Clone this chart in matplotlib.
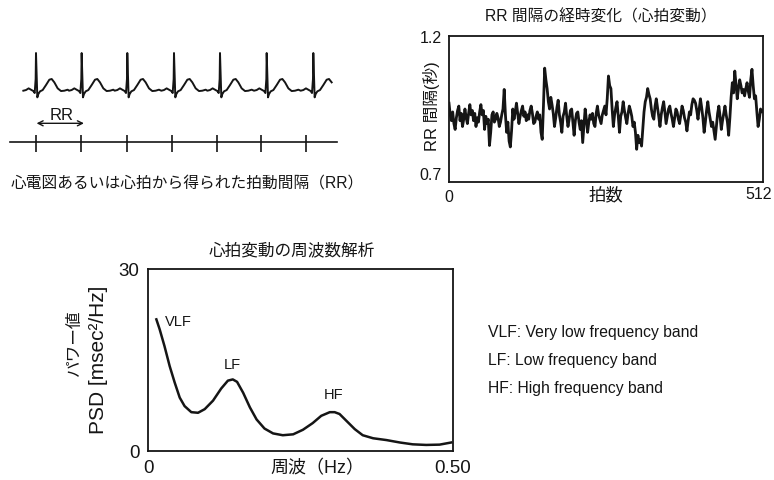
import numpy as np
import matplotlib
matplotlib.use("Agg")
import matplotlib.pyplot as plt

plt.rcParams['font.family'] = ['Liberation Sans', 'Noto Sans CJK JP', 'DejaVu Sans']

INK = '#151515'
W, H = 774, 481

# --- ECG: one beat (s from R peak, mV) and the beat times
beat_t = [-0.22, -0.174, -0.128, -0.087, -0.046, -0.023, -0.006, 0.0, 0.012, 0.023,
          0.041, 0.07, 0.116, 0.174, 0.232, 0.273, 0.319, 0.377, 0.435, 0.493, 0.551]
beat_v = [0.0, 0.017, 0.06, 0.026, -0.009, -0.06, 0.30, 0.966, 0.385, -0.171,
          -0.085, -0.017, 0.017, 0.145, 0.282, 0.30, 0.214, 0.06, -0.009, 0.0, 0.026]
r_peaks = [0.626, 1.420, 2.214, 3.026, 3.826, 4.638, 5.449]
rr_ticks = [0.626, 1.409, 2.203, 2.986, 3.768, 4.539, 5.316]
ecg_end = 5.77

# --- RR interval series (s), 512 beats, read every 2nd beat
rr = [0.97, 0.93, 0.91, 0.94, 0.90, 0.88, 0.92, 0.945, 0.96, 0.91,
      0.935, 0.89, 0.915, 0.95, 0.92, 0.90, 0.935, 0.965, 0.93, 0.945,
      0.91, 0.935, 0.89, 0.92, 0.905, 0.94, 0.965, 0.93, 0.945, 0.88,
      0.925, 0.90, 0.915, 0.825, 0.87, 0.93, 0.94, 0.905, 0.915, 0.935,
      0.92, 0.89, 0.905, 0.93, 0.95, 1.017, 0.93, 0.87, 0.905, 0.84,
      0.82, 0.875, 0.95, 0.915, 0.94, 0.97, 0.935, 0.90, 0.925, 0.945,
      0.96, 0.925, 0.94, 0.91, 0.93, 0.915, 0.945, 0.96, 0.935, 0.90,
      0.905, 0.925, 0.94, 0.915, 0.93, 0.87, 0.846, 0.96, 1.09, 1.05,
      1.02, 0.975, 0.95, 0.99, 0.965, 0.935, 0.89, 0.92, 0.955, 0.98,
      0.93, 0.905, 0.87, 0.925, 0.94, 0.97, 0.925, 0.89, 0.915, 0.945,
      0.95, 0.905, 0.86, 0.91, 0.935, 0.94, 0.905, 0.88, 0.91, 0.835,
      0.895, 0.95, 0.915, 0.87, 0.905, 0.93, 0.915, 0.935, 0.90, 0.89,
      0.935, 0.96, 0.93, 0.915, 0.90, 0.93, 0.945, 0.96, 0.93, 0.985,
      1.063, 1.03, 1.02, 0.95, 0.89, 0.93, 0.955, 0.975, 0.925, 0.87,
      0.925, 0.94, 0.975, 0.945, 0.92, 0.90, 0.935, 0.96, 0.945, 0.925,
      0.89, 0.905, 0.87, 0.812, 0.86, 0.835, 0.845, 0.823, 0.88, 0.94,
      0.975, 0.99, 1.02, 1.0, 0.985, 0.95, 0.925, 0.915, 0.96, 0.985,
      0.955, 0.925, 0.89, 0.93, 0.955, 0.975, 0.94, 0.90, 0.925, 0.95,
      0.96, 0.935, 0.915, 0.89, 0.92, 0.95, 0.94, 0.915, 0.90, 0.93,
      0.96, 0.945, 0.92, 0.905, 0.875, 0.91, 0.94, 0.93, 0.965, 0.985,
      0.98, 0.97, 0.945, 0.915, 0.95, 0.985, 0.955, 0.92, 0.87, 0.905,
      0.945, 0.975, 0.94, 0.915, 0.89, 0.905, 0.875, 0.846, 0.89, 0.935,
      0.96, 0.925, 0.88, 0.91, 0.935, 0.96, 0.93, 0.905, 0.86, 0.92,
      0.99, 1.04, 1.005, 1.08, 1.035, 0.985, 1.02, 1.05, 1.03, 1.005,
      1.017, 0.995, 1.02, 1.04, 1.01, 0.99, 1.05, 1.086, 1.03, 0.985,
      0.995, 0.94, 0.89, 0.915, 0.95, 0.94, 0.945]
n_beats = 512

# --- PSD of heart rate variability
psd_f = [0.0137, 0.019, 0.027, 0.0355, 0.0437, 0.052, 0.060, 0.071, 0.082, 0.093,
         0.1066, 0.120, 0.131, 0.139, 0.146, 0.156, 0.167, 0.178, 0.191, 0.205,
         0.221, 0.238, 0.254, 0.270, 0.284, 0.298, 0.306, 0.314, 0.325, 0.339,
         0.352, 0.369, 0.391, 0.413, 0.434, 0.456, 0.478, 0.497]
psd_p = [21.7, 20.1, 17.3, 14.0, 11.3, 8.8, 7.4, 6.4, 6.3, 6.9,
         8.3, 10.3, 11.6, 11.8, 11.4, 9.6, 7.2, 5.2, 3.7, 2.9,
         2.6, 2.75, 3.5, 4.6, 5.8, 6.4, 6.4, 6.1, 5.0, 3.6,
         2.6, 2.1, 1.8, 1.4, 1.1, 1.0, 1.05, 1.4]
band_names = ['VLF', 'LF', 'HF']
band_pos = [(0.027, 21.4), (0.1375, 14.3), (0.305, 9.4)]
band_desc = ['VLF: Very low frequency band', 'LF: Low frequency band',
             'HF: High frequency band']


def box(x0, y0, x1, y1):
    # pixel box (top-left origin) -> figure fraction rect
    return [x0 / W, 1 - y1 / H, (x1 - x0) / W, (y1 - y0) / H]


fig = plt.figure(figsize=(W / 100, H / 100), dpi=100)

# ECG panel
ax = fig.add_axes(box(0, 40, 360, 165))
ax.axis('off')
ax.set_xlim(0, 360 / 57.5)
ax.set_ylim((91.7 - 165) / 39, (91.7 - 40) / 39)
tt, vv = [], []
for r in r_peaks:
    for t, v in zip(beat_t, beat_v):
        if r + t <= ecg_end:
            tt.append(r + t)
            vv.append(v)
ax.plot(tt, vv, color=INK, lw=1.4)
ax.plot([0.174, 5.855], [-1.323, -1.323], color=INK, lw=1.2)
ax.vlines(rr_ticks, -1.572, -1.136, color=INK, lw=1.2)
ax.annotate('', xy=(r_peaks[1] + 0.04, -0.836), xytext=(r_peaks[0] + 0.01, -0.836),
            arrowprops=dict(arrowstyle='<->', color=INK, lw=1.0,
                            shrinkA=0, shrinkB=0, mutation_scale=9))
ax.text((r_peaks[0] + r_peaks[1]) / 2 + 0.05, -0.623, 'RR', ha='center', va='center',
        fontsize=12, color=INK)
fig.text(187 / W, 1 - 183 / H, '心電図あるいは心拍から得られた拍動間隔（RR）',
         ha='center', va='center', fontsize=11.3, color=INK)

# RR series panel
ax = fig.add_axes(box(449, 37, 763, 183))
ax.plot(np.linspace(0, n_beats, len(rr)), rr, color=INK, lw=2.0)
ax.set_xlim(0, n_beats)
ax.set_ylim(0.7, 1.2)
ax.set_xticks([0])
ax.set_yticks([0.7, 1.2])
ax.set_yticklabels(['0.7', '1.2'])
ax.tick_params(length=0, labelsize=11.5, colors=INK, pad=5)
ax.get_yticklabels()[0].set_va('bottom')
ax.text(0.985, -0.027, str(n_beats), transform=ax.transAxes, ha='center', va='top',
        fontsize=11.5, color=INK)
for s in ax.spines.values():
    s.set_linewidth(1.3)
    s.set_color(INK)
ax.text(0.5, -0.027, '拍数', transform=ax.transAxes, ha='center', va='top',
        fontsize=12.5, color=INK)
fig.text(432 / W, 1 - 106 / H, 'RR 間隔(秒)', rotation=90, ha='center', va='center',
         fontsize=12, color=INK)
fig.text(601 / W, 1 - 17 / H, 'RR 間隔の経時変化（心拍変動）', ha='center', va='center',
         fontsize=11.3, color=INK)

# PSD panel
ax = fig.add_axes(box(148, 270, 453, 452))
ax.plot(psd_f, psd_p, color=INK, lw=1.8)
for name, (f, p) in zip(band_names, band_pos):
    ax.text(f, p, name, ha='left' if name == 'VLF' else 'center', va='center',
            fontsize=10.5, color=INK)
ax.set_xlim(0, 0.5)
ax.set_ylim(0, 30)
ax.set_xticks([0, 0.5])
ax.set_xticklabels(['0', '0.50'])
ax.set_yticks([0, 30])
ax.tick_params(length=0, labelsize=13.5, colors=INK)
ax.tick_params(axis='y', pad=6)
ax.tick_params(axis='x', pad=6)
for s in ax.spines.values():
    s.set_linewidth(1.3)
    s.set_color(INK)
ax.text(0.554, -0.044, '周波（Hz）', transform=ax.transAxes, ha='center', va='top',
        fontsize=13, color=INK)
fig.text(74 / W, 1 - 343 / H, 'パワー値', rotation=90, ha='center', va='center',
         fontsize=12, color=INK)
fig.text(98 / W, 1 - 360 / H, 'PSD [msec²/Hz]', rotation=90, ha='center', va='center',
         fontsize=15, color=INK)
fig.text(292 / W, 1 - 250 / H, '心拍変動の周波数解析', ha='center', va='center',
         fontsize=12, color=INK)

for i, d in enumerate(band_desc):
    fig.text(488 / W, 1 - (332 + 28 * i) / H, d, ha='left', va='center',
             fontsize=11.3, color=INK)

fig.savefig('out.png', dpi=100)
